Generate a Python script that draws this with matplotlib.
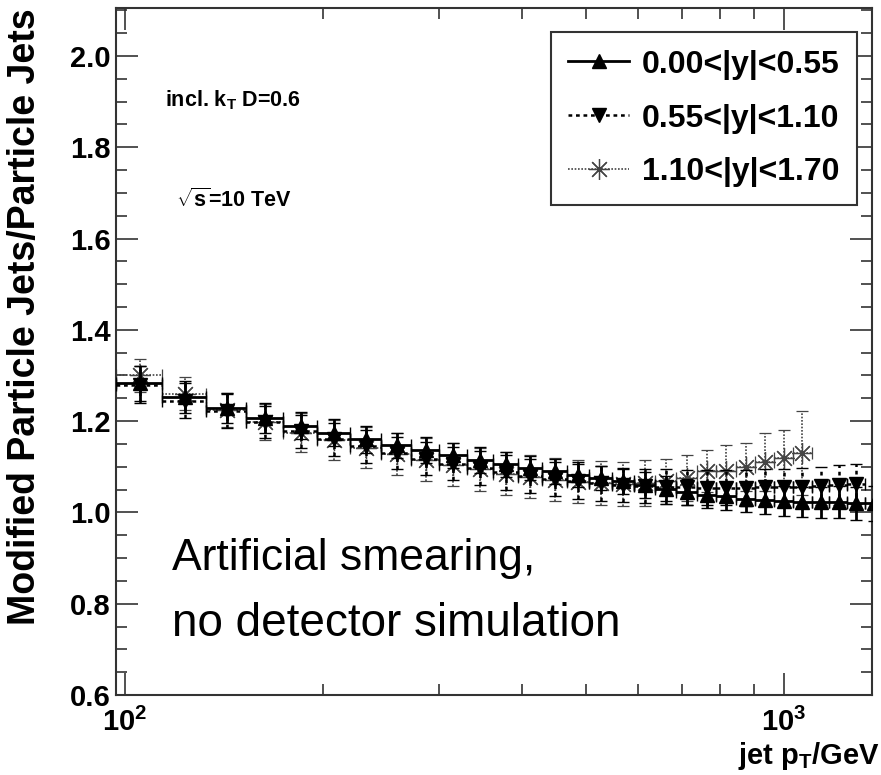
import numpy as np
import matplotlib.pyplot as plt
from matplotlib.lines import Line2D
from matplotlib.ticker import MultipleLocator, FixedLocator, NullFormatter

plt.rcParams['font.family'] = ['Liberation Sans', 'DejaVu Sans']
plt.rcParams['mathtext.fontset'] = 'custom'
plt.rcParams['mathtext.rm'] = 'Liberation Sans:bold'
plt.rcParams['mathtext.it'] = 'Liberation Sans:bold'
plt.rcParams['mathtext.bf'] = 'Liberation Sans:bold'

# jet pT bin edges (GeV)
bin_edges = np.array([97, 114, 133, 153, 174, 196, 220, 245, 272, 300, 330, 362, 395, 430,
                      468, 507, 548, 592, 638, 686, 737, 790, 846, 905, 967, 1032, 1101,
                      1172, 1248, 1327, 1410])

# 0.00<|y|<0.55
ratio_y1 = [1.283, 1.252, 1.228, 1.207, 1.190, 1.175, 1.160, 1.147, 1.137, 1.125, 1.115,
            1.105, 1.097, 1.090, 1.083, 1.075, 1.068, 1.060, 1.052, 1.045, 1.038, 1.035,
            1.030, 1.028, 1.025, 1.022, 1.022, 1.022, 1.020, 1.020]
err_y1 = [0.038, 0.035, 0.033, 0.032, 0.030, 0.030, 0.029, 0.028, 0.028, 0.028, 0.028,
          0.028, 0.027, 0.027, 0.027, 0.027, 0.027, 0.028, 0.028, 0.028, 0.029, 0.030,
          0.030, 0.031, 0.032, 0.033, 0.034, 0.035, 0.036, 0.038]

# 0.55<|y|<1.10
ratio_y2 = [1.280, 1.245, 1.222, 1.198, 1.178, 1.160, 1.145, 1.130, 1.118, 1.107, 1.097,
            1.088, 1.080, 1.073, 1.068, 1.064, 1.060, 1.058, 1.056, 1.055, 1.054, 1.054,
            1.054, 1.055, 1.055, 1.056, 1.058, 1.060, 1.062]
err_y2 = [0.040, 0.038, 0.037, 0.036, 0.036, 0.036, 0.036, 0.036, 0.037, 0.037, 0.038,
          0.038, 0.038, 0.038, 0.038, 0.038, 0.038, 0.038, 0.038, 0.038, 0.038, 0.038,
          0.039, 0.039, 0.040, 0.041, 0.042, 0.043, 0.044]

# 1.10<|y|<1.70
ratio_y3 = [1.300, 1.260, 1.225, 1.198, 1.175, 1.158, 1.142, 1.128, 1.115, 1.104, 1.094,
            1.085, 1.078, 1.072, 1.067, 1.064, 1.063, 1.064, 1.068, 1.075, 1.090, 1.091,
            1.099, 1.110, 1.119, 1.130]
err_y3 = [0.036, 0.036, 0.037, 0.040, 0.042, 0.044, 0.045, 0.046, 0.047, 0.047, 0.047,
          0.047, 0.047, 0.047, 0.047, 0.048, 0.048, 0.050, 0.050, 0.050, 0.046, 0.057,
          0.053, 0.064, 0.061, 0.092]

labels = ['0.00<|y|<0.55', '0.55<|y|<1.10', '1.10<|y|<1.70']

fig = plt.figure(figsize=(8.81, 7.75), dpi=100)
ax = fig.add_axes([116 / 881, 1 - 695 / 775, (872 - 116) / 881, (695 - 8) / 775])

centers = 0.5 * (bin_edges[:-1] + bin_edges[1:])


def draw(vals, errs, marker, ls, color, lw, ms, mew, z):
    n = len(vals)
    x = centers[:n]
    xerr = [x - bin_edges[:n], bin_edges[1:n + 1] - x]
    line, caps, bars = ax.errorbar(x, vals, xerr=xerr, yerr=errs, fmt='', marker=marker,
                                   linestyle='none', color=color, ms=ms, mew=mew,
                                   elinewidth=lw, capsize=4, capthick=lw, zorder=z)
    for b in bars:
        b.set_linestyle(ls)


ast = (8, 2, 0)
draw(ratio_y3, err_y3, ast, (0, (1, 1)), '#444444', 1.2, 15, 0.9, 2)
draw(ratio_y2, err_y2, 'v', (0, (1.5, 1.5)), 'black', 1.8, 10.5, 1, 3)
draw(ratio_y1, err_y1, '^', '-', 'black', 2.0, 10.5, 1, 4)

ax.set_xscale('log')
ax.set_xlim(97, 1360)
ax.set_ylim(0.6, 2.105)

ax.xaxis.set_major_locator(FixedLocator([100, 1000]))
ax.xaxis.set_minor_locator(FixedLocator([200, 300, 400, 500, 600, 700, 800, 900]))
ax.xaxis.set_minor_formatter(NullFormatter())
ax.set_xticklabels([r'$10^{2}$', r'$10^{3}$'])
yt = np.arange(0.6, 2.01, 0.2)
ax.set_yticks(yt)
ax.set_yticklabels([f'{v:.1f}' for v in yt])
ax.yaxis.set_minor_locator(MultipleLocator(0.05))

ax.tick_params(which='both', direction='in', top=True, right=True, color='#333333')
ax.tick_params(which='major', length=16, width=1.2)
ax.tick_params(which='minor', length=8, width=1.2)
ax.tick_params(axis='y', labelsize=21, pad=4)
ax.tick_params(axis='x', labelsize=21, pad=9)
for lab in ax.get_yticklabels():
    lab.set_fontweight('bold')
for s in ax.spines.values():
    s.set_linewidth(1.5)
    s.set_color('#333333')

fig.text(25 / 881, 1 - 8 / 775, 'Modified Particle Jets/Particle Jets', rotation=90,
         ha='center', va='top', fontsize=27, fontweight='bold')
fig.text(880 / 881, 1 - 764 / 775, r'jet p$_{T}$/GeV', ha='right', va='baseline',
         fontsize=21, fontweight='bold')

fig.text(165 / 881, 1 - 106 / 775, r'incl. k$_{T}$ D=0.6', ha='left', va='baseline',
         fontsize=15.5, fontweight='bold')
fig.text(176 / 881, 1 - 207 / 775, r'$\sqrt{s}$=10 TeV', ha='left', va='baseline',
         fontsize=15.5, fontweight='bold')
fig.text(172 / 881, 1 - 570 / 775, 'Artificial smearing,', ha='left', va='baseline',
         fontsize=32)
fig.text(172 / 881, 1 - 636 / 775, 'no detector simulation', ha='left', va='baseline',
         fontsize=33)

handles = [
    Line2D([], [], color='black', ls='-', lw=2, marker='^', ms=10.5),
    Line2D([], [], color='black', ls=(0, (1.5, 1.5)), lw=1.8, marker='v', ms=10.5),
    Line2D([], [], color='#444444', ls=(0, (1, 1)), lw=1.2, marker=ast, ms=15, mew=0.9),
]
leg = ax.legend(handles, labels, loc='upper right', bbox_to_anchor=(857 / 881, 1 - 32 / 775),
                bbox_transform=fig.transFigure, prop={'size': 23, 'weight': 'bold'},
                handlelength=1.9, handletextpad=0.4, borderpad=0.55, labelspacing=0.75,
                fancybox=False, framealpha=1, edgecolor='#333333', borderaxespad=0)
leg.get_frame().set_linewidth(1.5)

fig.savefig('out.png', dpi=100)
